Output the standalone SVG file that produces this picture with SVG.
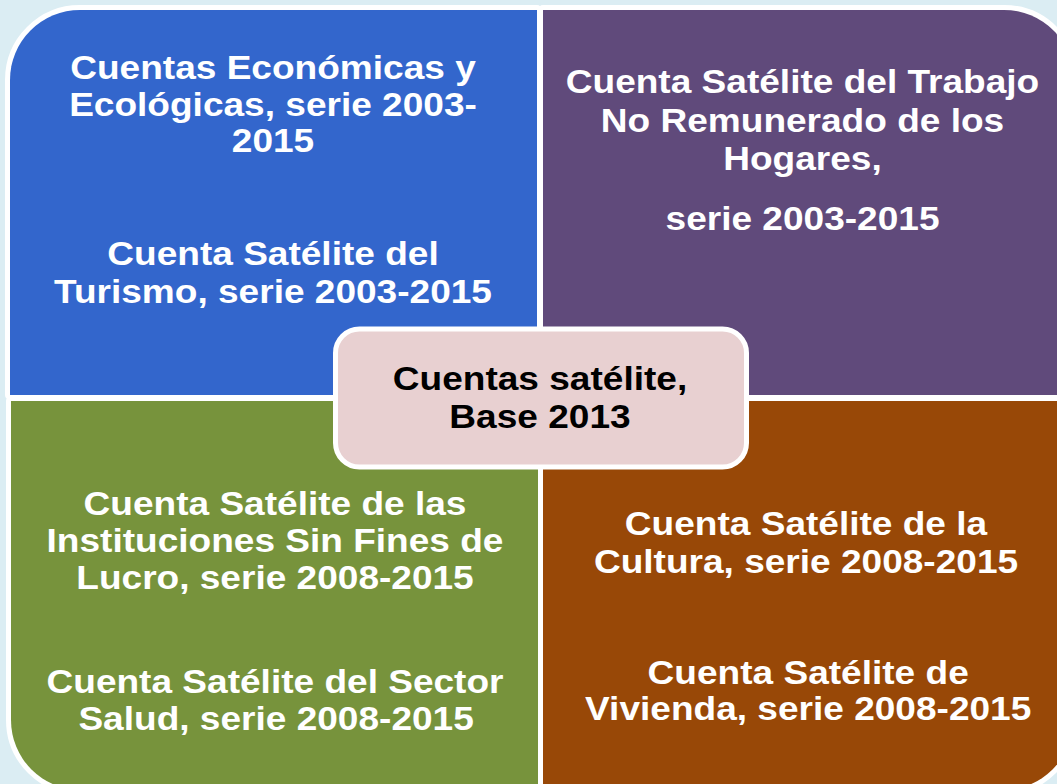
<svg xmlns="http://www.w3.org/2000/svg" width="1057" height="784" viewBox="0 0 1057 784">
  <style>
    .t { font-family: "Liberation Sans", Arial, sans-serif; font-weight: bold; font-size: 34px; fill: #FFFFFF; text-anchor: middle; }
    .c { fill: #000000; }
    .halo { fill: #FFFFFF; stroke: #FFFFFF; stroke-width: 10; stroke-linejoin: round; }
  </style>
  <rect x="0" y="0" width="1057" height="784" fill="#DBEDF3"/>
  <g id="halo">
    <path class="halo" d="M10,80 A70,70 0 0 1 80,10 L537,10 L537,395 L10,395 Z"/>
    <path class="halo" d="M543,10 L1004,10 A70,70 0 0 1 1074,80 L1074,395 L543,395 Z"/>
    <path class="halo" d="M11,401 L538,401 L538,790 L81,790 A70,70 0 0 1 11,720 Z"/>
    <path class="halo" d="M543,401 L1073,401 L1073,720 A70,70 0 0 1 1003,790 L543,790 Z"/>
  </g>
  <g id="q-top-left">
    <path d="M10,80 A70,70 0 0 1 80,10 L537,10 L537,395 L10,395 Z" fill="#3366CC"/>
    <g transform="translate(273,0) scale(1.09,1)">
      <text class="t" x="0" y="79">Cuentas Económicas y</text>
      <text class="t" x="0" y="116">Ecológicas, serie 2003-</text>
      <text class="t" x="0" y="152">2015</text>
      <text class="t" x="0" y="265">Cuenta Satélite del</text>
      <text class="t" x="0" y="303">Turismo, serie 2003-2015</text>
    </g>
  </g>
  <g id="q-top-right">
    <path d="M543,10 L1004,10 A70,70 0 0 1 1074,80 L1074,395 L543,395 Z" fill="#604A7B"/>
    <g transform="translate(802.5,0) scale(1.09,1)">
      <text class="t" x="0" y="93">Cuenta Satélite del Trabajo</text>
      <text class="t" x="0" y="132">No Remunerado de los</text>
      <text class="t" x="0" y="170">Hogares,</text>
      <text class="t" x="0" y="230">serie 2003-2015</text>
    </g>
  </g>
  <g id="q-bottom-left">
    <path d="M11,401 L538,401 L538,790 L81,790 A70,70 0 0 1 11,720 Z" fill="#77933C"/>
    <g transform="translate(275,0) scale(1.09,1)">
      <text class="t" x="0" y="515">Cuenta Satélite de las</text>
      <text class="t" x="0" y="552">Instituciones Sin Fines de</text>
      <text class="t" x="0" y="589">Lucro, serie 2008-2015</text>
      <text class="t" x="0" y="693">Cuenta Satélite del Sector</text>
      <text class="t" x="1" y="730">Salud, serie 2008-2015</text>
    </g>
  </g>
  <g id="q-bottom-right">
    <path d="M543,401 L1073,401 L1073,720 A70,70 0 0 1 1003,790 L543,790 Z" fill="#984807"/>
    <g transform="translate(806,0) scale(1.09,1)">
      <text class="t" x="0" y="535">Cuenta Satélite de la</text>
      <text class="t" x="0" y="573">Cultura, serie 2008-2015</text>
      <text class="t" x="2" y="684">Cuenta Satélite de</text>
      <text class="t" x="2" y="720">Vivienda, serie 2008-2015</text>
    </g>
  </g>
  <g id="center">
    <rect x="335.5" y="329" width="411" height="138" rx="24" fill="#E8D0D1" stroke="#FFFFFF" stroke-width="5"/>
    <g transform="translate(540,0) scale(1.09,1)">
      <text class="t c" x="0" y="390">Cuentas satélite,</text>
      <text class="t c" x="0" y="428">Base 2013</text>
    </g>
  </g>
  <g id="connectors"/>
</svg>
